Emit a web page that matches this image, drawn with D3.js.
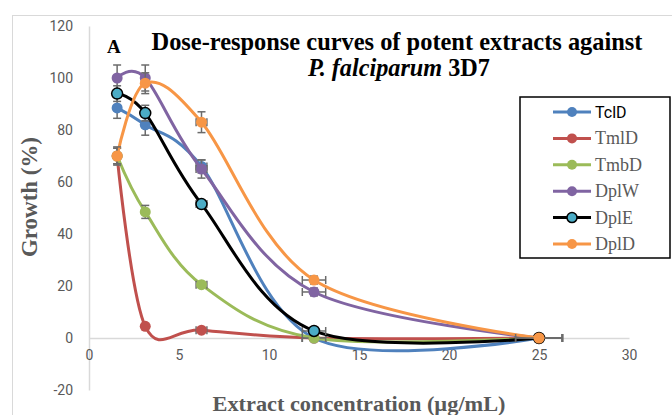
<!DOCTYPE html>
<html>
<head>
<meta charset="utf-8">
<script src="https://cdn.jsdelivr.net/npm/d3@7"></script>
<style>
  body { margin: 0; background: #fff; }
  svg { display: block; }
</style>
</head>
<body>
<div id="chart"></div>
<script>
// concentrations (ug/mL) - two-fold dilutions
const conc = [1.5625, 3.125, 6.25, 12.5, 25];
const concErr = [0, 0, 0.3, 0.65, 1.3];

const seriesNames = ['TclD', 'TmlD', 'TmbD', 'DplW', 'DplE', 'DplD'];
const seriesColors = ['#4f81bd', '#c0504d', '#9bbb59', '#8064a2', '#000000', '#f79646'];

// growth (%) per extract
const tclD = [88.5, 82, 66, 0, 0];
const tmlD = [70, 4.5, 3, 0, 0];
const tmbD = [70, 48.5, 20.5, 0, 0];
const dplW = [100, 100, 65, 17.7, 0];
const dplE = [94, 86.5, 51.5, 2.7, 0];
const dplD = [70, 98, 83, 22.3, 0];

// standard deviation of growth
const tclDErr = [4, 4, 2.5, 0, 0];
const tmlDErr = [3, 0, 0.5, 0, 0];
const tmbDErr = [3, 2.5, 1, 0.5, 0];
const dplWErr = [5, 5, 3.5, 1.5, 0];
const dplEErr = [3, 3, 1.5, 1, 0];
const dplDErr = [3.5, 4, 4, 1.5, 0];

const xTicks = [0, 5, 10, 15, 20, 25, 30];
const yTicks = [-20, 0, 20, 40, 60, 80, 100, 120];

const allValues = [tclD, tmlD, tmbD, dplW, dplE, dplD];
const allErrors = [tclDErr, tmlDErr, tmbDErr, dplWErr, dplEErr, dplDErr];

const width = 672;
const height = 415;

const svg = d3.select('#chart').append('svg')
  .attr('width', width)
  .attr('height', height);

// outer chart frame
svg.append('rect')
  .attr('x', 12.5).attr('y', 15.5)
  .attr('width', 700).attr('height', 450)
  .attr('fill', 'none')
  .attr('stroke', '#d9d9d9');

const x = d3.scaleLinear().domain([0, 30]).range([89, 629]);
const y = d3.scaleLinear().domain([-20, 120]).range([390, 26]);

// y axis
const yAxis = svg.append('g')
  .attr('transform', 'translate(' + x(0) + ',0)')
  .call(d3.axisLeft(y).tickValues(yTicks).tickSize(0).tickSizeOuter(0).tickPadding(16)
    .tickFormat(function(d) { return String(d); }));
yAxis.select('.domain').attr('stroke', '#d9d9d9').attr('stroke-width', 1.5);
yAxis.selectAll('text')
  .attr('fill', '#595959')
  .style('font-family', 'Roboto, sans-serif')
  .style('font-size', '14px');

// x axis crossing at 0
const xAxis = svg.append('g')
  .attr('transform', 'translate(0,' + y(0) + ')')
  .call(d3.axisBottom(x).tickValues(xTicks).tickSize(0).tickSizeOuter(0).tickPadding(12));
xAxis.select('.domain').attr('stroke', '#d9d9d9').attr('stroke-width', 1.5);
xAxis.selectAll('text')
  .attr('fill', '#595959')
  .style('font-family', 'Roboto, sans-serif')
  .style('font-size', '14px');

const line = d3.line()
  .x(function(d, i) { return x(conc[i]); })
  .y(function(d) { return y(d); })
  .curve(d3.curveCardinal.tension(0));

const errColor = '#6b6b6b';
const cap = 4;

allValues.forEach(function(vals, s) {
  const g = svg.append('g').attr('class', 'series');

  g.append('path')
    .datum(vals)
    .attr('d', line)
    .attr('fill', 'none')
    .attr('stroke', seriesColors[s])
    .attr('stroke-width', 3);

  const errs = allErrors[s];
  vals.forEach(function(v, i) {
    const cx = x(conc[i]);
    const cy = y(v);
    if (errs[i] > 0) {
      const y1 = y(v + errs[i]);
      const y2 = y(v - errs[i]);
      g.append('line').attr('x1', cx).attr('x2', cx).attr('y1', y1).attr('y2', y2)
        .attr('stroke', errColor).attr('stroke-width', 1.5);
      [y1, y2].forEach(function(yy) {
        g.append('line').attr('x1', cx - cap).attr('x2', cx + cap).attr('y1', yy).attr('y2', yy)
          .attr('stroke', errColor).attr('stroke-width', 1.5);
      });
    }
    if (concErr[i] > 0) {
      const x1 = x(conc[i] - concErr[i]);
      const x2 = x(conc[i] + concErr[i]);
      g.append('line').attr('x1', x1).attr('x2', x2).attr('y1', cy).attr('y2', cy)
        .attr('stroke', errColor).attr('stroke-width', 1.5);
      [x1, x2].forEach(function(xx) {
        g.append('line').attr('x1', xx).attr('x2', xx).attr('y1', cy - cap).attr('y2', cy + cap)
          .attr('stroke', errColor).attr('stroke-width', 1.5);
      });
    }
  });

  g.selectAll('circle')
    .data(vals)
    .enter()
    .append('circle')
    .attr('cx', function(d, i) { return x(conc[i]); })
    .attr('cy', function(d) { return y(d); })
    .attr('r', 5.5)
    .attr('fill', seriesNames[s] === 'DplE' ? '#4bacc6' : seriesColors[s])
    .attr('stroke', seriesNames[s] === 'DplE' ? '#000' : 'none')
    .attr('stroke-width', 1.5);
});

// title
const serif = '"Liberation Serif", "Times New Roman", serif';
svg.append('text')
  .attr('x', 397).attr('y', 50)
  .attr('text-anchor', 'middle')
  .attr('font-size', 25)
  .attr('textLength', 491)
  .attr('lengthAdjust', 'spacingAndGlyphs')
  .style('font-family', serif)
  .style('font-weight', 'bold')
  .text('Dose-response curves of potent extracts against');
const title2 = svg.append('text')
  .attr('x', 399).attr('y', 76)
  .attr('text-anchor', 'middle')
  .attr('font-size', 25)
  .attr('textLength', 182)
  .attr('lengthAdjust', 'spacingAndGlyphs')
  .style('font-family', serif)
  .style('font-weight', 'bold');
title2.append('tspan').style('font-style', 'italic').text('P. falciparum');
title2.append('tspan').text(' 3D7');

svg.append('text')
  .attr('x', 107).attr('y', 53)
  .attr('font-size', 19)
  .style('font-family', serif)
  .style('font-weight', 'bold')
  .text('A');

// axis titles
svg.append('text')
  .attr('transform', 'translate(37,197) rotate(-90)')
  .attr('text-anchor', 'middle')
  .attr('font-size', 23)
  .attr('textLength', 120)
  .attr('lengthAdjust', 'spacingAndGlyphs')
  .attr('fill', '#595959')
  .style('font-family', serif)
  .style('font-weight', 'bold')
  .text('Growth (%)');

svg.append('text')
  .attr('x', 359).attr('y', 411)
  .attr('text-anchor', 'middle')
  .attr('font-size', 22)
  .attr('textLength', 293)
  .attr('lengthAdjust', 'spacingAndGlyphs')
  .attr('fill', '#595959')
  .style('font-family', serif)
  .style('font-weight', 'bold')
  .text('Extract concentration (\u00b5g/mL)');

// legend
const legend = svg.append('g');
legend.append('rect')
  .attr('x', 520).attr('y', 97)
  .attr('width', 150).attr('height', 161)
  .attr('fill', '#fff')
  .attr('stroke', '#000')
  .attr('stroke-width', 1.5);

const legendRow = d3.scaleLinear().domain([0, 5]).range([112, 244]);

seriesNames.forEach(function(name, s) {
  const ly = legendRow(s);
  legend.append('line')
    .attr('x1', 553).attr('x2', 591).attr('y1', ly).attr('y2', ly)
    .attr('stroke', seriesColors[s]).attr('stroke-width', 3);
  legend.append('circle')
    .attr('cx', 572).attr('cy', ly).attr('r', 5)
    .attr('fill', name === 'DplE' ? '#4bacc6' : seriesColors[s])
    .attr('stroke', name === 'DplE' ? '#000' : 'none')
    .attr('stroke-width', 1.5);
  const t = legend.append('text')
    .attr('x', 595).attr('y', ly + 6)
    .text(name);
  if (s === 0) {
    t.attr('font-size', 16).attr('fill', '#000').style('font-family', 'Roboto, sans-serif');
  } else {
    t.attr('font-size', 18).attr('fill', '#595959').style('font-family', serif);
  }
});
</script>
</body>
</html>
